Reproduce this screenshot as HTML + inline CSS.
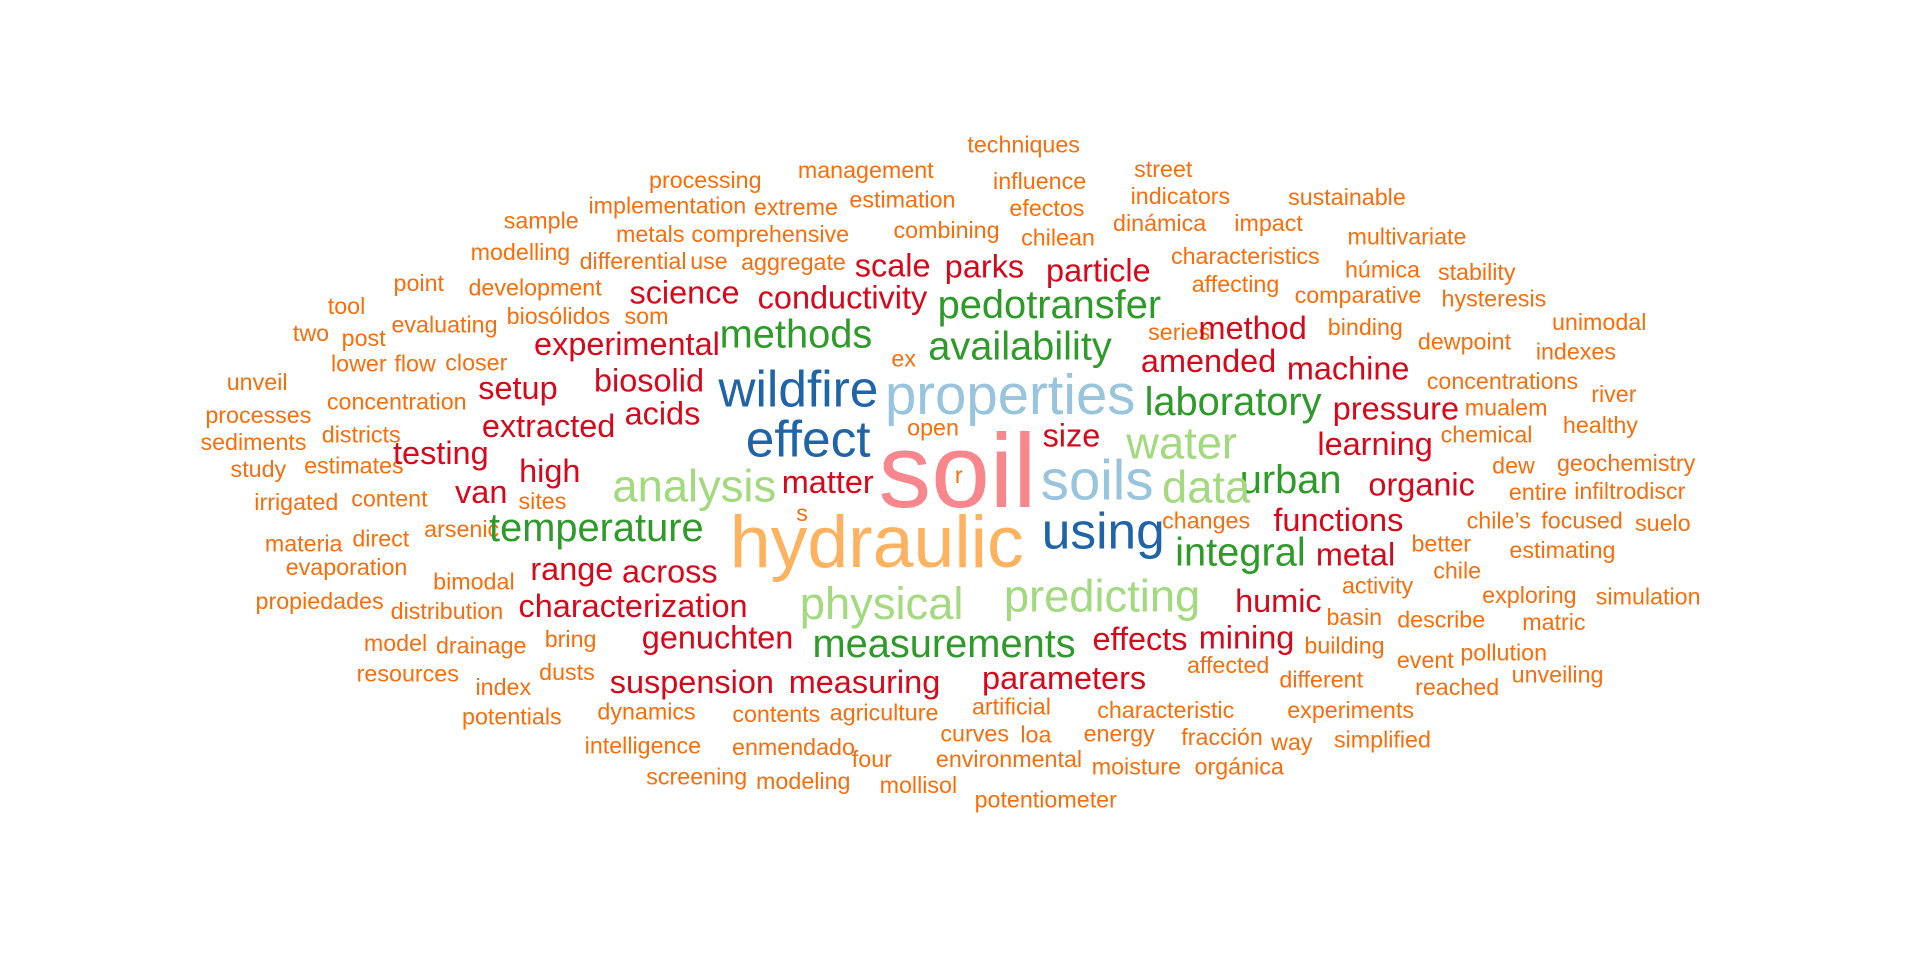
<!DOCTYPE html>
<html><head><meta charset="utf-8">
<style>
html,body{margin:0;padding:0;background:#fff;}
#wrap{position:relative;width:1920px;height:960px;overflow:hidden;background:#fff;}
#cloud{position:absolute;left:0;top:0;width:1568px;height:784px;transform:scale(1.22449);transform-origin:0 0;}
.w{position:absolute;white-space:nowrap;line-height:1;font-family:"Liberation Sans",Arial,sans-serif;transform:translate(-50%,-50%);}
</style></head>
<body>
<div id="wrap"><div id="cloud"></div></div>
<script>
const colors = {o:"#f96e0c", r:"#d7081c", g:"#2e9a2a", lg:"#a3d97f", b:"#1f63a8", lb:"#98c4de", pe:"#fcb25e", pk:"#f7878c"};
const sizes = {o:19, r:26.5, g:32.5, lg:37};
const words = ["techniques","processing","management","street","influence","implementation","extreme","estimation","indicators","sustainable","sample","efectos","dinámica","impact","metals","comprehensive","combining","chilean","multivariate","modelling","differential","use","aggregate","characteristics","húmica","stability","development","point","affecting","comparative","hysteresis","tool","biosólidos","som","two","post","evaluating","series","binding","unimodal","dewpoint","indexes","lower","flow","closer","ex","unveil","concentrations","river","processes","concentration","mualem","chemical","healthy","sediments","districts","open","study","estimates","r","dew","geochemistry","irrigated","content","sites","s","entire","infiltrodiscr","materia","direct","arsenic","changes","chile’s","focused","suelo","evaporation","better","estimating","bimodal","activity","chile","propiedades","distribution","exploring","simulation","basin","describe","matric","model","drainage","bring","building","event","pollution","resources","dusts","affected","different","reached","unveiling","index","potentials","dynamics","contents","agriculture","artificial","characteristic","experiments","curves","loa","energy","fracción","way","simplified","intelligence","enmendado","four","environmental","moisture","orgánica","screening","modeling","mollisol","potentiometer",
"scale","parks","particle","science","conductivity","experimental","method","amended","machine","setup","biosolid","pressure","acids","extracted","size","learning","testing","high","matter","organic","van","functions","range","across","metal","characterization","humic","genuchten","effects","mining","suspension","measuring","parameters",
"pedotransfer","methods","availability","laboratory","urban","temperature","integral","measurements",
"analysis","water","data","physical","predicting",
"wildfire","effect","using","properties","soils","hydraulic","soil"];
const xs = [836,576,707,950,849,545,650,737,964,1100,442,855,947,1036,531,629,773,864,1149,425,517,579,648,1017,1129,1206,437,342,1009,1109,1220,283,456,528,254,297,363,963,1115,1306,1196,1287,293,339,389,738,210,1227,1318,211,324,1230,1214,1307,207,295,762,211,289,783,1236,1328,242,318,443,655,1256,1331,248,311,377,985,1224,1292,1358,283,1177,1276,387,1125,1190,261,365,1249,1346,1106,1177,1269,323,393,466,1098,1164,1228,333,463,1003,1079,1190,1272,411,418,528,634,722,826,952,1103,796,846,914,998,1055,1129,525,648,712,824,928,1012,569,656,750,854,
729,804,897,559,688,512,1023,987,1101,423,530,1140,541,448,875,1123,360,449,676,1161,393,1093,467,547,1107,517,1044,586,931,1018,565,706,869,
857,650,833,1007,1054,487,1013,771,
567,965,985,720,900,
652,660,901,825,896,716,782];
const ys = [119,148,140,139,149,169,170,164,161,162,181,171,183,183,192,192,189,195,194,207,214,214,215,210,221,223,236,232,233,242,245,251,259,259,273,277,266,272,268,264,280,288,298,298,297,294,313,312,323,340,329,334,356,348,362,356,350,384,381,389,381,379,411,408,410,420,403,402,445,441,433,426,426,426,428,464,445,450,476,479,467,492,500,487,488,505,507,509,526,528,523,528,540,534,551,550,544,556,562,552,562,586,582,584,583,578,581,581,600,601,600,603,607,605,610,611,621,621,627,627,635,639,642,654,
217,218,221,239,243,281,268,295,301,317,311,334,338,348,356,363,370,385,394,396,402,425,465,467,453,495,491,521,522,521,557,557,554,
249,273,283,328,392,431,451,526,
397,362,398,493,487,
318,359,434,322,392,443,385];
const kinds = [];
for (let i=0;i<124;i++) kinds.push("o");
for (let i=0;i<33;i++) kinds.push("r");
for (let i=0;i<8;i++) kinds.push("g");
for (let i=0;i<5;i++) kinds.push("lg");
kinds.push("b","b","b","lb","lb","pe","pk");
const bigSizes = {wildfire:42, effect:42, using:42, properties:46, soils:46, hydraulic:60, soil:86};
const cloud = document.getElementById('cloud');
words.forEach((w,i)=>{
  const el = document.createElement('div');
  el.className = 'w';
  el.textContent = w;
  const k = kinds[i];
  el.style.color = colors[k];
  el.style.fontSize = (bigSizes[w] || sizes[k]) + 'px';
  el.style.left = xs[i] + 'px';
  el.style.top = ys[i] + 'px';
  
  
  cloud.appendChild(el);
});
</script>
</body></html>
